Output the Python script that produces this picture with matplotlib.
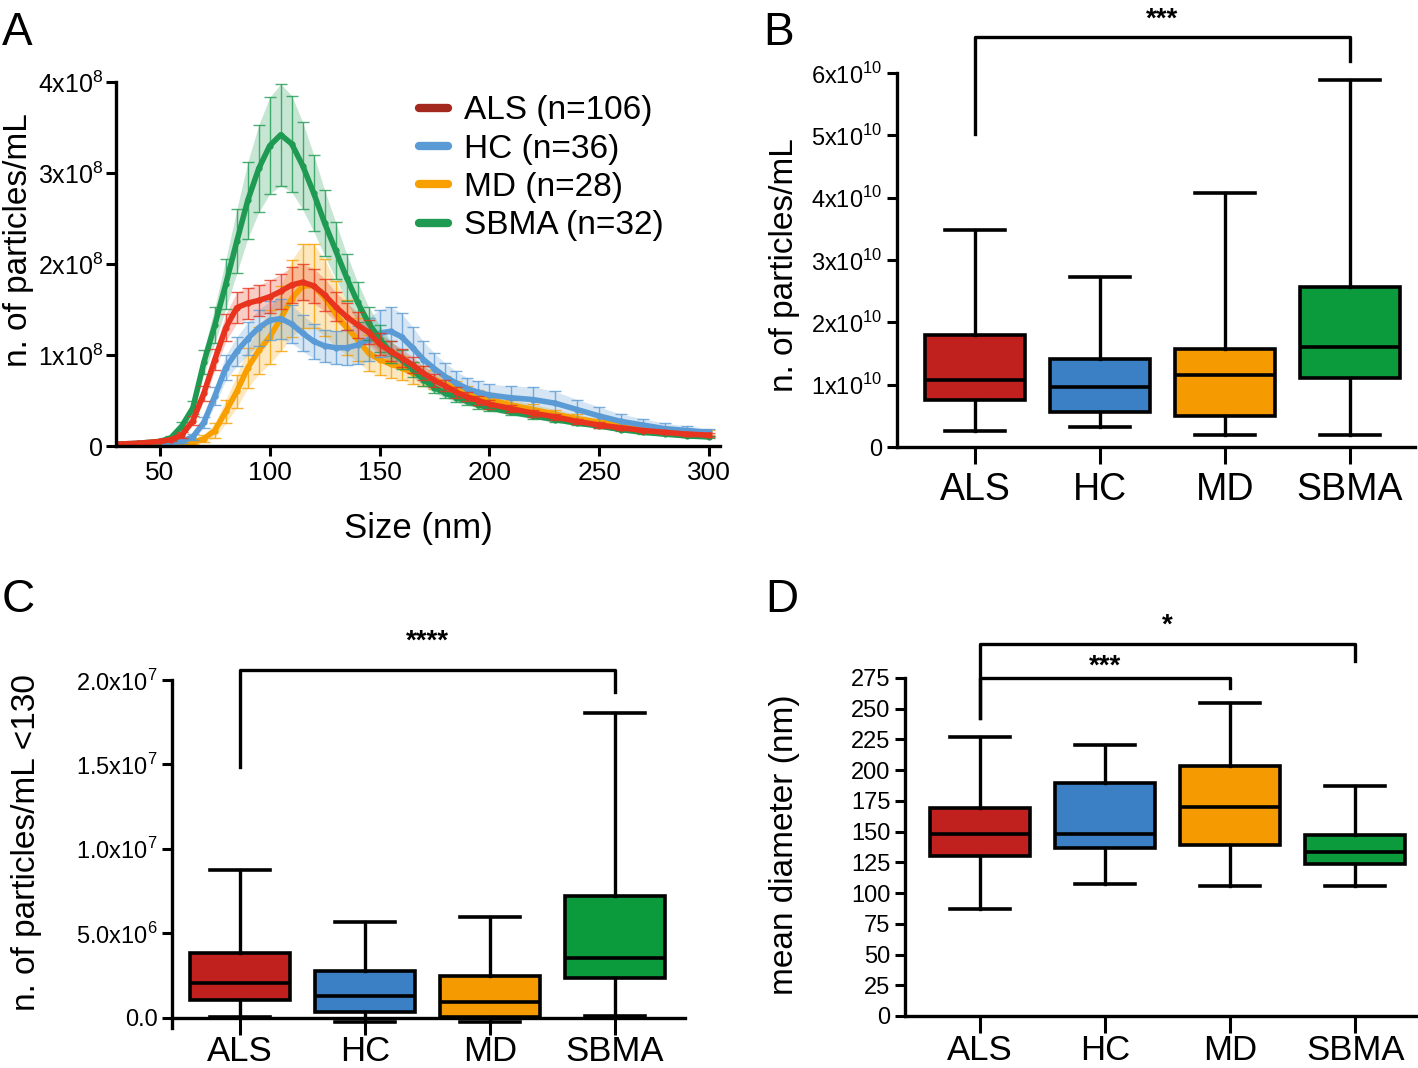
import matplotlib
matplotlib.use('Agg')
from matplotlib import pyplot as plt
from matplotlib.lines import Line2D
import numpy as np

plt.rcParams['font.family'] = ['Liberation Sans', 'DejaVu Sans']
plt.rcParams['mathtext.fontset'] = 'custom'
plt.rcParams['mathtext.rm'] = 'Liberation Sans'

# ---- panel A: size distribution (values in 1e8 particles/mL) ----
size_nm = [30, 40, 50, 55, 60, 65, 70, 75, 80, 85, 90, 95, 100, 105, 110, 115, 120, 125, 130,
           135, 140, 145, 150, 155, 160, 165, 170, 175, 180, 185, 190, 195, 200, 210, 220, 230,
           240, 250, 260, 270, 280, 290, 300]

als_mean = [0.02, 0.03, 0.05, 0.07, 0.12, 0.28, 0.58, 0.95, 1.30, 1.52, 1.57, 1.60, 1.64, 1.70,
            1.77, 1.80, 1.76, 1.66, 1.53, 1.42, 1.33, 1.25, 1.12, 1.04, 0.97, 0.89, 0.80, 0.72,
            0.66, 0.59, 0.54, 0.50, 0.46, 0.41, 0.36, 0.32, 0.27, 0.23, 0.20, 0.17, 0.15, 0.13, 0.12]
als_sem = [0.01, 0.01, 0.01, 0.02, 0.03, 0.05, 0.08, 0.12, 0.15, 0.17, 0.17, 0.17, 0.18, 0.19,
           0.20, 0.20, 0.19, 0.18, 0.16, 0.15, 0.14, 0.13, 0.12, 0.11, 0.10, 0.09, 0.08, 0.07,
           0.06, 0.06, 0.05, 0.05, 0.05, 0.04, 0.04, 0.03, 0.03, 0.03, 0.02, 0.02, 0.02, 0.02, 0.02]

hc_mean = [0.01, 0.02, 0.03, 0.04, 0.05, 0.10, 0.26, 0.55, 0.86, 1.04, 1.18, 1.30, 1.38, 1.40,
           1.34, 1.24, 1.15, 1.10, 1.08, 1.08, 1.11, 1.17, 1.24, 1.26, 1.20, 1.08, 0.95, 0.85,
           0.76, 0.69, 0.63, 0.59, 0.56, 0.53, 0.51, 0.47, 0.40, 0.33, 0.27, 0.23, 0.19, 0.17, 0.15]
hc_sem = [0.01, 0.01, 0.01, 0.01, 0.02, 0.03, 0.06, 0.10, 0.14, 0.16, 0.18, 0.20, 0.21, 0.22,
          0.21, 0.20, 0.19, 0.18, 0.18, 0.19, 0.21, 0.24, 0.26, 0.27, 0.26, 0.23, 0.20, 0.17,
          0.15, 0.13, 0.12, 0.12, 0.12, 0.13, 0.14, 0.13, 0.11, 0.10, 0.08, 0.07, 0.06, 0.05, 0.04]

md_mean = [0.01, 0.01, 0.02, 0.02, 0.03, 0.04, 0.08, 0.17, 0.38, 0.60, 0.86, 1.05, 1.20, 1.40,
           1.62, 1.76, 1.76, 1.63, 1.45, 1.30, 1.17, 1.02, 0.95, 0.90, 0.86, 0.80, 0.77, 0.73,
           0.68, 0.63, 0.58, 0.54, 0.51, 0.45, 0.40, 0.35, 0.30, 0.26, 0.23, 0.20, 0.18, 0.16, 0.15]
md_sem = [0.01, 0.01, 0.01, 0.01, 0.01, 0.02, 0.04, 0.08, 0.13, 0.18, 0.22, 0.26, 0.30, 0.36,
          0.42, 0.46, 0.46, 0.42, 0.36, 0.30, 0.24, 0.20, 0.17, 0.15, 0.13, 0.12, 0.11, 0.10,
          0.09, 0.08, 0.08, 0.07, 0.07, 0.06, 0.06, 0.05, 0.05, 0.04, 0.04, 0.03, 0.03, 0.03, 0.03]

sbma_mean = [0.02, 0.03, 0.05, 0.09, 0.22, 0.42, 0.92, 1.33, 1.78, 2.25, 2.70, 3.05, 3.30, 3.42,
             3.32, 3.08, 2.78, 2.45, 2.15, 1.85, 1.58, 1.35, 1.18, 1.03, 0.95, 0.84, 0.73, 0.64,
             0.58, 0.53, 0.49, 0.45, 0.42, 0.37, 0.33, 0.29, 0.25, 0.22, 0.18, 0.15, 0.13, 0.11, 0.10]
sbma_sem = [0.01, 0.01, 0.01, 0.02, 0.04, 0.07, 0.13, 0.20, 0.27, 0.35, 0.42, 0.48, 0.53, 0.56,
            0.53, 0.48, 0.42, 0.36, 0.31, 0.26, 0.22, 0.18, 0.15, 0.12, 0.10, 0.08, 0.07, 0.06,
            0.05, 0.05, 0.04, 0.04, 0.04, 0.03, 0.03, 0.03, 0.02, 0.02, 0.02, 0.02, 0.01, 0.01, 0.01]

legend_labels = ['ALS (n=106)', 'HC (n=36)', 'MD (n=28)', 'SBMA (n=32)']

# ---- box plot panels: [whisker low, Q1, median, Q3, whisker high] ----
groups = ['ALS', 'HC', 'MD', 'SBMA']

# B: total particles (x1e10)
b_stats = {'ALS': [0.26, 0.76, 1.07, 1.79, 3.48],
           'HC': [0.32, 0.56, 0.96, 1.41, 2.72],
           'MD': [0.19, 0.49, 1.15, 1.57, 4.07],
           'SBMA': [0.20, 1.11, 1.60, 2.56, 5.88]}
# C: particles < 130 nm (x1e6)
c_stats = {'ALS': [0.04, 1.03, 2.05, 3.83, 8.78],
           'HC': [-0.26, 0.34, 1.32, 2.80, 5.70],
           'MD': [-0.22, 0.08, 0.93, 2.47, 5.96],
           'SBMA': [0.12, 2.37, 3.53, 7.24, 18.03]}
# D: mean diameter (nm)
d_stats = {'ALS': [86.9, 130.2, 148.3, 169.4, 226.8],
           'HC': [107.7, 136.9, 148.3, 189.2, 220.8],
           'MD': [105.8, 139.4, 170.2, 203.5, 254.4],
           'SBMA': [105.8, 124.0, 133.7, 147.5, 187.3]}

box_colors = ['#c0211f', '#3b7fc4', '#f59a00', '#0b9a3c']
line_colors = ['#e8341e', '#5b9bd5', '#f7a000', '#1f9a52']
legend_colors = ['#a3281e', '#5b9bd5', '#f7a000', '#1f9a52']

W, H = 1418, 1068
fig = plt.figure(figsize=(W / 100, H / 100), dpi=100)


def axes_px(left, right, bottom, top):
    return fig.add_axes([left / W, 1 - bottom / H, (right - left) / W, (bottom - top) / H])


def style_axes(ax):
    for s in ['top', 'right']:
        ax.spines[s].set_visible(False)
    for s in ['left', 'bottom']:
        ax.spines[s].set_linewidth(2.4)
        ax.spines[s].set_color('black')
    ax.tick_params(width=2.2, length=7, direction='out', color='black')


# ================= A =================
axA = axes_px(116, 720, 446, 82)
style_axes(axA)
x = np.array(size_nm)
series = [(md_mean, md_sem, 2), (hc_mean, hc_sem, 1), (sbma_mean, sbma_sem, 3), (als_mean, als_sem, 0)]
for mean, sem, ci in series:
    m = np.array(mean) * 1e8
    e = np.array(sem) * 1e8
    c = line_colors[ci]
    axA.fill_between(x, m - e, m + e, color=c, alpha=0.25, lw=0)
    axA.errorbar(x, m, yerr=e, fmt='none', ecolor=c, elinewidth=1.0, capsize=4,
                 capthick=1.0, alpha=0.8)
    axA.plot(x, m, color=c, lw=4, marker='o', ms=3.5)
axA.set_xlim(30, 305)
axA.set_ylim(0, 4e8)
axA.set_xticks([50, 100, 150, 200, 250, 300])
axA.set_yticks([0, 1e8, 2e8, 3e8, 4e8])
axA.set_yticklabels(['0', '1x10$^8$', '2x10$^8$', '3x10$^8$', '4x10$^8$'])
axA.tick_params(labelsize=19)
axA.tick_params(axis='y', labelsize=18, pad=2)
axA.set_xlabel('Size (nm)', fontsize=25, labelpad=20)
axA.set_ylabel('n. of particles/mL', fontsize=24)
axA.yaxis.set_label_coords(-0.135, 0.566)
handles = [Line2D([], [], color=c, lw=6, solid_capstyle='round') for c in legend_colors]
axA.legend(handles, legend_labels, loc='upper left', bbox_to_anchor=(0.48, 1.0),
           frameon=False, fontsize=24, handlelength=0.85, handletextpad=0.5,
           labelspacing=0.22, borderaxespad=0)


def box_panel(ax, stats, scale, label_size=27, label_pad=6):
    bstats = []
    for g in groups:
        lo, q1, med, q3, hi = [v * scale for v in stats[g]]
        bstats.append({'whislo': lo, 'q1': q1, 'med': med, 'q3': q3, 'whishi': hi, 'fliers': []})
    art = ax.bxp(bstats, positions=range(4), widths=0.8, patch_artist=True, showfliers=False,
                 boxprops=dict(linewidth=2.6, edgecolor='black'),
                 medianprops=dict(color='black', linewidth=2.6),
                 whiskerprops=dict(color='black', linewidth=2.4),
                 capprops=dict(color='black', linewidth=2.6),
                 capwidths=0.48)
    for patch, c in zip(art['boxes'], box_colors):
        patch.set_facecolor(c)
    ax.set_xticks(range(4))
    ax.set_xticklabels(groups, fontsize=label_size)
    ax.tick_params(axis='x', length=12, pad=label_pad)
    ax.tick_params(axis='y', labelsize=17)


def bracket(ax, x0, x1, y_top, y0, y1, stars, y_star, va='center'):
    ax.plot([x0, x0, x1, x1], [y0, y_top, y_top, y1], color='black', lw=2.4, clip_on=False)
    ax.text((x0 + x1) / 2, y_star, stars, ha='center', va=va, fontsize=20,
            fontweight='bold', clip_on=False)


# ================= B =================
axB = axes_px(897, 1415, 447, 73)
style_axes(axB)
box_panel(axB, b_stats, 1e10)
axB.set_xlim(-0.624, 3.52)
axB.set_ylim(0, 6e10)
axB.set_yticks([0, 1e10, 2e10, 3e10, 4e10, 5e10, 6e10])
axB.set_yticklabels(['0'] + ['%dx10$^{10}$' % i for i in range(1, 7)])
axB.set_ylabel('n. of particles/mL', fontsize=24)
axB.yaxis.set_label_coords(-0.187, 0.487)
bracket(axB, 0, 3, 6.57e10, 5.02e10, 6.2e10, '***', 6.64e10, va='bottom')

# ================= C =================
axC = axes_px(172, 685, 1028, 680)
style_axes(axC)
axC.spines['bottom'].set_position(('data', 0))
box_panel(axC, c_stats, 1e6, label_size=25, label_pad=0)
axC.set_xlim(-0.544, 3.56)
axC.set_ylim(-0.6e6, 2.0e7)
axC.set_yticks([0, 5e6, 1e7, 1.5e7, 2e7])
axC.set_yticklabels(['0.0', '5.0x10$^6$', '1.0x10$^7$', '1.5x10$^7$', '2.0x10$^7$'])
axC.set_ylabel('n. of particles/mL <130', fontsize=24)
axC.yaxis.set_label_coords(-0.253, 0.534)
bracket(axC, 0, 3, 2.06e7, 1.487e7, 1.927e7, '****', 2.23e7)

# ================= D =================
axD = axes_px(905, 1418, 1016, 678)
style_axes(axD)
box_panel(axD, d_stats, 1, label_size=25, label_pad=1)
axD.set_xlim(-0.6, 3.5)
axD.set_ylim(0, 275)
axD.set_yticks(range(0, 276, 25))
axD.set_ylabel('mean diameter (nm)', fontsize=24)
axD.yaxis.set_label_coords(-0.205, 0.506)
bracket(axD, 0, 3, 303, 242.5, 289, '*', 318)
bracket(axD, 0, 2, 274.7, 242.5, 266.8, '***', 284)

# panel letters
for letter, px, py in [('A', 2, 45), ('B', 763, 45), ('C', 2, 612), ('D', 765, 612)]:
    fig.text(px / W, 1 - py / H, letter, fontsize=33, ha='left', va='baseline')

fig.savefig('out.png', dpi=100)
